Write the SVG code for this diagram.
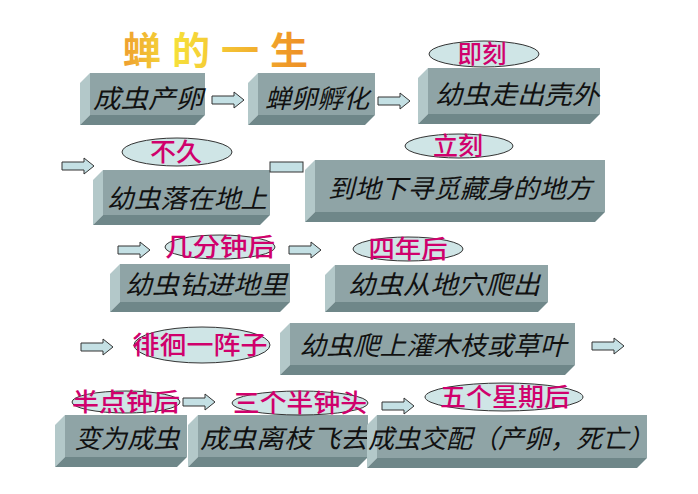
<svg xmlns="http://www.w3.org/2000/svg" width="698" height="494" viewBox="0 0 698 494">
<defs>
<linearGradient id="tg" gradientUnits="userSpaceOnUse" x1="120" y1="0" x2="300" y2="0">
<stop offset="0" stop-color="#ee9a2e"/>
<stop offset="0.3" stop-color="#f6e03a"/>
<stop offset="0.6" stop-color="#f4c234"/>
<stop offset="1" stop-color="#ee9126"/>
</linearGradient>
<path id="arr" d="M0,-4 H22 V-8 L32,0 L22,8 V4 H0 Z"/>
<style>
.front{fill:#8fa4a6}
.side{fill:#b3c8c9}
.bot{fill:#6f8789}
.nt{font-family:"Noto Sans CJK SC","Noto Sans CJK TC",sans-serif;font-size:26px;font-style:italic;fill:#111;text-anchor:middle}
.lb{font-family:"Noto Sans CJK SC","Noto Sans CJK TC",sans-serif;font-size:25px;font-weight:500;fill:#d0006c;text-anchor:middle}
.el{fill:#cfe5e6;stroke:#333;stroke-width:1}
.ar{fill:#c4e0e4;stroke:#333;stroke-width:1}
.title{font-family:"Noto Sans CJK SC",sans-serif;font-size:38px;font-weight:bold;fill:url(#tg);letter-spacing:11px}
</style>
</defs>
<rect width="698" height="494" fill="#fff"/>
<text class="title" x="123" y="64">蝉的一生</text>

<g id="n1">
<polygon class="side" points="80,83 90,73 90,115 80,125"/>
<polygon class="bot" points="80,125 90,115 205,115 195,125"/>
<rect class="front" x="90" y="73" width="115" height="42"/>
<text class="nt" x="148" y="108" textLength="110" lengthAdjust="spacingAndGlyphs">成虫产卵</text>
</g>
<g id="n2">
<polygon class="side" points="248,83 258,73 258,115 248,125"/>
<polygon class="bot" points="248,125 258,115 375,115 365,125"/>
<rect class="front" x="258" y="73" width="117" height="42"/>
<text class="nt" x="317" y="108" textLength="104" lengthAdjust="spacingAndGlyphs">蝉卵孵化</text>
</g>
<g id="n3">
<polygon class="side" points="418,78 428,68 428,114 418,124"/>
<polygon class="bot" points="418,124 428,114 600,114 590,124"/>
<rect class="front" x="428" y="68" width="172" height="46"/>
<text class="nt" x="517" y="104" textLength="164" lengthAdjust="spacingAndGlyphs">幼虫走出壳外</text>
</g>
<g id="n4">
<polygon class="side" points="93,180 103,170 103,215 93,225"/>
<polygon class="bot" points="93,225 103,215 270,215 260,225"/>
<rect class="front" x="103" y="170" width="167" height="45"/>
<text class="nt" x="187" y="208" textLength="160" lengthAdjust="spacingAndGlyphs">幼虫落在地上</text>
</g>
<g id="n5">
<polygon class="side" points="305,170 315,160 315,212 305,222"/>
<polygon class="bot" points="305,222 315,212 605,212 595,222"/>
<rect class="front" x="315" y="160" width="290" height="52"/>
<text class="nt" x="460" y="198" textLength="264" lengthAdjust="spacingAndGlyphs">到地下寻觅藏身的地方</text>
</g>
<g id="n6">
<polygon class="side" points="110,274 120,264 120,302 110,312"/>
<polygon class="bot" points="110,312 120,302 290,302 280,312"/>
<rect class="front" x="120" y="264" width="170" height="38"/>
<text class="nt" x="206" y="294" textLength="162" lengthAdjust="spacingAndGlyphs">幼虫钻进地里</text>
</g>
<g id="n7">
<polygon class="side" points="325,275 335,265 335,302 325,312"/>
<polygon class="bot" points="325,312 335,302 548,302 538,312"/>
<rect class="front" x="335" y="265" width="213" height="37"/>
<text class="nt" x="444" y="294" textLength="192" lengthAdjust="spacingAndGlyphs">幼虫从地穴爬出</text>
</g>
<g id="n8">
<polygon class="side" points="280,333 290,323 290,365 280,375"/>
<polygon class="bot" points="280,375 290,365 575,365 565,375"/>
<rect class="front" x="290" y="323" width="285" height="42"/>
<text class="nt" x="433" y="355" textLength="267" lengthAdjust="spacingAndGlyphs">幼虫爬上灌木枝或草叶</text>
</g>
<g id="n9">
<polygon class="side" points="55,425 65,415 65,457 55,467"/>
<polygon class="bot" points="55,467 65,457 187,457 177,467"/>
<rect class="front" x="65" y="415" width="122" height="42"/>
<text class="nt" x="127" y="448" textLength="105" lengthAdjust="spacingAndGlyphs">变为成虫</text>
</g>
<g id="n10">
<polygon class="side" points="188,425 198,415 198,457 188,467"/>
<polygon class="bot" points="188,467 198,457 368,457 358,467"/>
<rect class="front" x="198" y="415" width="170" height="42"/>
<text class="nt" x="284" y="448" textLength="168" lengthAdjust="spacingAndGlyphs">成虫离枝飞去</text>
</g>
<g id="n11">
<polygon class="side" points="367,425 377,415 377,458 367,468"/>
<polygon class="bot" points="367,468 377,458 647,458 637,468"/>
<rect class="front" x="377" y="415" width="270" height="43"/>
<text class="nt" x="368" y="448" style="text-anchor:start" textLength="286" lengthAdjust="spacingAndGlyphs">成虫交配（产卵，死亡）</text>
</g>

<g id="labels">
<g id="l1"><ellipse class="el" cx="484" cy="54" rx="55" ry="13"/><text class="lb" x="482" y="63" textLength="49" lengthAdjust="spacingAndGlyphs">即刻</text></g>
<g id="l2"><ellipse class="el" cx="177" cy="152" rx="55" ry="14"/><text class="lb" x="176" y="161" textLength="52" lengthAdjust="spacingAndGlyphs">不久</text></g>
<g id="l3"><ellipse class="el" cx="459" cy="146" rx="54" ry="12"/><text class="lb" x="458" y="155" textLength="50" lengthAdjust="spacingAndGlyphs">立刻</text></g>
<g id="l4"><ellipse class="el" cx="220" cy="247" rx="55" ry="12"/><text class="lb" x="220" y="256" textLength="110" lengthAdjust="spacingAndGlyphs">几分钟后</text></g>
<g id="l5"><ellipse class="el" cx="408" cy="249" rx="55" ry="12"/><text class="lb" x="408" y="258" textLength="79" lengthAdjust="spacingAndGlyphs">四年后</text></g>
<g id="l6"><ellipse class="el" cx="202" cy="345" rx="68" ry="18"/><text class="lb" x="200" y="354" textLength="135" lengthAdjust="spacingAndGlyphs">徘徊一阵子</text></g>
<g id="l7"><ellipse class="el" cx="126" cy="402" rx="54" ry="11"/><text class="lb" x="126" y="411" textLength="108" lengthAdjust="spacingAndGlyphs">半点钟后</text></g>
<g id="l8"><ellipse class="el" cx="300" cy="403" rx="68" ry="12"/><text class="lb" x="300" y="412" textLength="134" lengthAdjust="spacingAndGlyphs">三个半钟头</text></g>
<g id="l9"><ellipse class="el" cx="504" cy="397" rx="79" ry="14"/><text class="lb" x="505" y="406" textLength="130" lengthAdjust="spacingAndGlyphs">五个星期后</text></g>
</g>

<g id="connectors">
<use href="#arr" class="ar" x="212" y="100"/>
<use href="#arr" class="ar" x="378" y="101"/>
<use href="#arr" class="ar" x="62" y="166"/>
<rect class="ar" x="270" y="162" width="33" height="10"/>
<use href="#arr" class="ar" x="118" y="250"/>
<use href="#arr" class="ar" x="289" y="250"/>
<use href="#arr" class="ar" x="81" y="347"/>
<use href="#arr" class="ar" x="592" y="346"/>
<use href="#arr" class="ar" x="183" y="402"/>
<use href="#arr" class="ar" x="382" y="406"/>
</g>
</svg>
